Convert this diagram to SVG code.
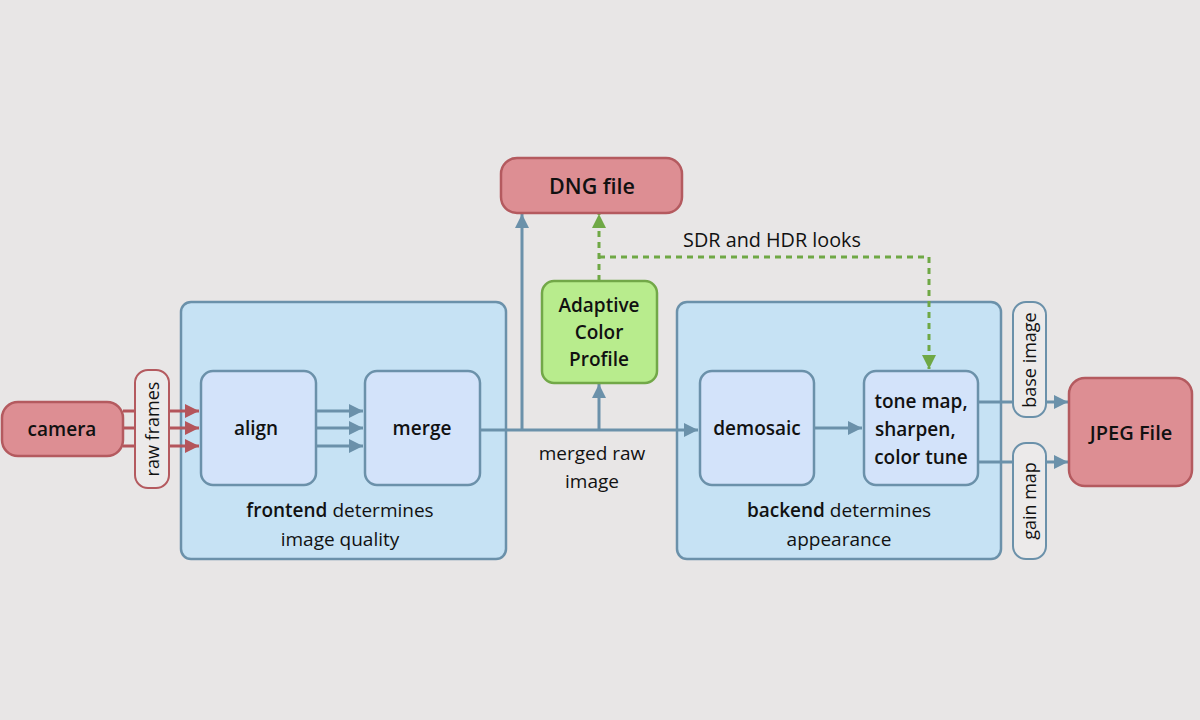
<svg xmlns="http://www.w3.org/2000/svg" width="1200" height="720" viewBox="0 0 1200 720">
<defs>
<style>
.bg{fill:#e8e6e6}
.grp{fill:#c6e2f4;stroke:#6b91aa;stroke-width:2.5}
.blk{fill:#d3e3fa;stroke:#6b91aa;stroke-width:2.5}
.red{fill:#dd8e93;stroke:#b45a5f;stroke-width:2.5}
.grn{fill:#b8ec8d;stroke:#72a848;stroke-width:2.5}
.pillr{fill:#eceaea;stroke:#b45a5f;stroke-width:2}
.pillb{fill:#eceaea;stroke:#6b91aa;stroke-width:2}
.t{font-family:"Open Sans","Noto Sans",sans-serif;font-size:19px;fill:#111;text-anchor:middle}
.b{font-weight:600}
.c{fill:none;stroke:#6b91aa;stroke-width:3}
.cr{fill:none;stroke:#b4555b;stroke-width:3}
.cg{fill:none;stroke:#6fa845;stroke-width:3;stroke-dasharray:6 5}
</style>
<marker id="ab" markerWidth="14" markerHeight="14" refX="14" refY="7" orient="auto" markerUnits="userSpaceOnUse"><path d="M0,0L14,7L0,14Z" fill="#6b91aa"/></marker>
<marker id="ar" markerWidth="14" markerHeight="14" refX="14" refY="7" orient="auto" markerUnits="userSpaceOnUse"><path d="M0,0L14,7L0,14Z" fill="#b4555b"/></marker>
<marker id="ag" markerWidth="14" markerHeight="14" refX="14" refY="7" orient="auto" markerUnits="userSpaceOnUse"><path d="M0,0L14,7L0,14Z" fill="#6fa845"/></marker>
</defs>
<rect class="bg" x="0" y="0" width="1200" height="720"/>

<g id="frontend">
<rect class="grp" x="181" y="302" width="325" height="257" rx="10"/>
<text class="t" x="340" y="517"><tspan class="b">frontend</tspan> determines</text>
<text class="t" x="340" y="546">image quality</text>
</g>
<g id="backend">
<rect class="grp" x="677" y="302" width="324" height="257" rx="10"/>
<text class="t" x="839" y="517"><tspan class="b">backend</tspan> determines</text>
<text class="t" x="839" y="546">appearance</text>
</g>

<g id="connectors">
<path class="cr" d="M123,411H199" marker-end="url(#ar)"/>
<path class="cr" d="M123,428H199" marker-end="url(#ar)"/>
<path class="cr" d="M123,446H199" marker-end="url(#ar)"/>
<path class="c" d="M316,411H363" marker-end="url(#ab)"/>
<path class="c" d="M316,428H363" marker-end="url(#ab)"/>
<path class="c" d="M316,446H363" marker-end="url(#ab)"/>
<path class="c" d="M480,430H698" marker-end="url(#ab)"/>
<path class="c" d="M522,430V214" marker-end="url(#ab)"/>
<path class="c" d="M599,430V384" marker-end="url(#ab)"/>
<path class="c" d="M814,428H862" marker-end="url(#ab)"/>
<path class="c" d="M978,402H1068" marker-end="url(#ab)"/>
<path class="c" d="M978,462H1068" marker-end="url(#ab)"/>
<path class="cg" d="M599,281V214" marker-end="url(#ag)"/>
<path class="cg" d="M599,257H929V369" marker-end="url(#ag)"/>
</g>

<g id="raw-frames">
<rect class="pillr" x="135" y="370" width="34" height="118" rx="13"/>
<text class="t" transform="translate(159,429) rotate(-90)" style="font-size:18px">raw frames</text>
</g>
<g id="base-image">
<rect class="pillb" x="1013" y="302" width="33" height="115" rx="13"/>
<text class="t" transform="translate(1036,360) rotate(-90)" style="font-size:18px">base image</text>
</g>
<g id="gain-map">
<rect class="pillb" x="1013" y="443" width="33" height="116" rx="13"/>
<text class="t" transform="translate(1036,501) rotate(-90)" style="font-size:18px">gain map</text>
</g>

<g id="camera">
<rect class="red" x="2" y="402" width="121" height="54" rx="16"/>
<text class="t b" x="62" y="436">camera</text>
</g>
<g id="align">
<rect class="blk" x="201" y="371" width="115" height="114" rx="12"/>
<text class="t b" x="256" y="435">align</text>
</g>
<g id="merge">
<rect class="blk" x="365" y="371" width="115" height="114" rx="12"/>
<text class="t b" x="422" y="435">merge</text>
</g>
<g id="merged-raw-label">
<text class="t" x="592" y="460">merged raw</text>
<text class="t" x="592" y="488">image</text>
</g>
<g id="dng">
<rect class="red" x="501" y="158" width="181" height="55" rx="16"/>
<text class="t b" x="592" y="194" style="font-size:21.5px">DNG file</text>
</g>
<g id="acp">
<rect class="grn" x="542" y="281" width="115" height="102" rx="12"/>
<text class="t b" x="599" y="312">Adaptive</text>
<text class="t b" x="599" y="339">Color</text>
<text class="t b" x="599" y="366">Profile</text>
</g>
<g id="sdr-label">
<text class="t" x="772" y="247" style="font-size:19.8px">SDR and HDR looks</text>
</g>
<g id="demosaic">
<rect class="blk" x="700" y="371" width="114" height="114" rx="12"/>
<text class="t b" x="757" y="435">demosaic</text>
</g>
<g id="tonemap">
<rect class="blk" x="864" y="371" width="114" height="114" rx="12"/>
<text class="t b" x="921" y="408">tone map,</text>
<text class="t b" x="921" y="436" style="text-anchor:start" dx="-46">sharpen,</text>
<text class="t b" x="921" y="464">color tune</text>
</g>
<g id="jpeg">
<rect class="red" x="1069" y="378" width="123" height="108" rx="16"/>
<text class="t b" x="1131" y="440" style="font-size:20px">JPEG File</text>
</g>
</svg>
